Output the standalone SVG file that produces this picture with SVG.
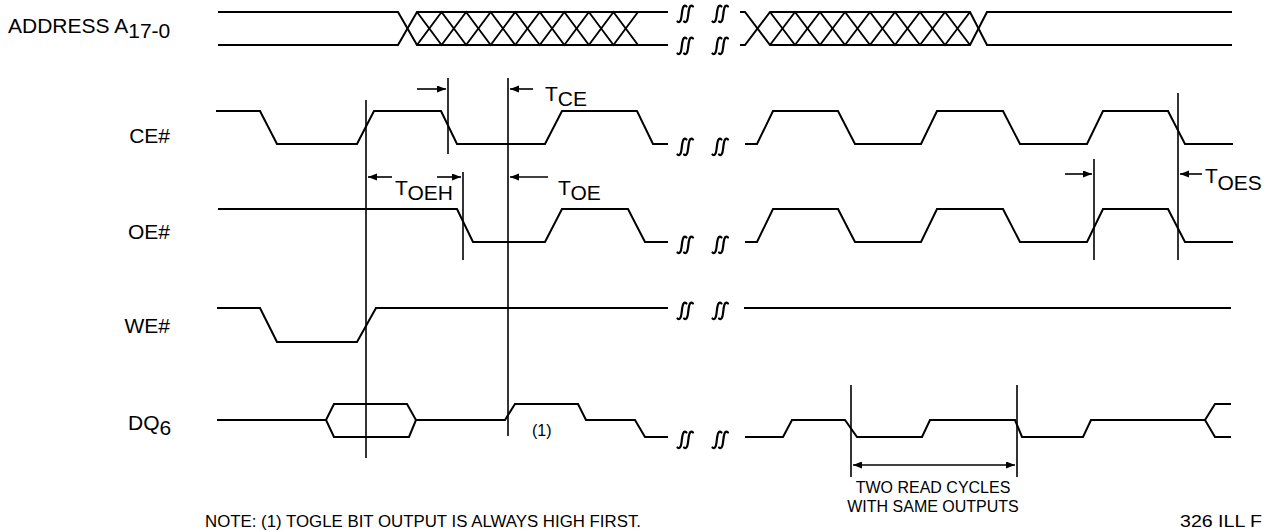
<svg xmlns="http://www.w3.org/2000/svg" width="1270" height="531" viewBox="0 0 1270 531">
<style>
.w{fill:none;stroke:#000;stroke-width:2;stroke-linejoin:miter}
.h{fill:none;stroke:#000;stroke-width:1.9}
.v{stroke:#000;stroke-width:1.6}
.a{stroke:#000;stroke-width:1.6;marker-end:url(#ah)}
.t{font-family:"Liberation Sans",Arial,sans-serif;font-size:21px;fill:#000}
.s{font-family:"Liberation Sans",Arial,sans-serif;font-size:16px;fill:#000}
.b{fill:none;stroke:#000;stroke-width:2.2;stroke-linecap:round}
</style>
<defs>
<marker id="ah" markerUnits="userSpaceOnUse" markerWidth="10" markerHeight="8" refX="9" refY="3.5" orient="auto">
<path d="M0,0 L9,3.5 L0,7 z" fill="#000"/>
</marker>
<marker id="ahs" markerUnits="userSpaceOnUse" markerWidth="10" markerHeight="8" refX="0" refY="3.5" orient="auto">
<path d="M9,0 L0,3.5 L9,7 z" fill="#000"/>
</marker>
<g id="brk">
<path d="M-7.5,7.5 C-5.5,9.5 -4,7 -3.5,2.5 L-2.8,-3 C-2.2,-8 -0.5,-9.5 1.5,-7.5"/>
<path d="M-1,7.5 C1,9.5 2.5,7 3,2.5 L3.7,-3 C4.3,-8 6,-9.5 8,-7.5"/>
</g>
</defs>

<g id="labels">
<text class="t" x="8" y="33">ADDRESS A<tspan dy="5">17-0</tspan></text>
<text class="t" x="170" y="143" text-anchor="end">CE#</text>
<text class="t" x="170" y="239" text-anchor="end">OE#</text>
<text class="t" x="170" y="333" text-anchor="end">WE#</text>
<text class="t" x="128" y="430">DQ<tspan dy="5">6</tspan></text>
</g>

<g id="address">
<path class="w" d="M218,12 H398 L417,45 H668"/>
<path class="w" d="M218,45 H398 L417,12 H668"/>
<polyline class="h" points="417,12 441.56,45 466.11,12 490.67,45 515.22,12 539.78,45 564.33,12 588.89,45 613.44,12 638,45"/>
<polyline class="h" points="417,45 441.56,12 466.11,45 490.67,12 515.22,45 539.78,12 564.33,45 588.89,12 613.44,45 638,12"/>
<path class="w" d="M740,12 H745 L770,45 H970 L987,12 H1232"/>
<path class="w" d="M740,45 H745 L770,12 H970 L987,45 H1232"/>
<polyline class="h" points="770,12 795,45 820,12 845,45 870,12 895,45 920,12 945,45 970,12"/>
<polyline class="h" points="770,45 795,12 820,45 845,12 870,45 895,12 920,45 945,12 970,45"/>
</g>

<g id="ce">
<path class="w" d="M216,111 H260 L277,144 H357 L374,111 H441 L457,144 H545 L562,111 H637 L653,144 H668"/>
<path class="w" d="M745,144 H757 L773,111 H838 L855,144 H921 L937,111 H1003 L1020,144 H1087 L1103,111 H1168 L1185,144 H1233"/>
</g>

<g id="oe">
<path class="w" d="M218,209 H457 L473,242 H545 L562,209 H628 L645,242 H668"/>
<path class="w" d="M745,242 H757 L773,209 H838 L855,242 H921 L937,209 H1003 L1020,242 H1087 L1103,209 H1168 L1185,242 H1233"/>
</g>

<g id="we">
<path class="w" d="M217,308 H260 L277,342 H357 L376,308 H668"/>
<path class="w" d="M744,308 H1231"/>
</g>

<g id="dq6">
<path class="w" d="M217,420 H326"/>
<path class="w" d="M326,420 L334,404 H407 L416,420 L409,437 H334 Z"/>
<path class="w" d="M416,420 H505 L515,404 H578 L586,420 H635 L645,437 H668"/>
<path class="w" d="M745,437 H783 L792,420 H845 L857,437 H922 L930,420 H1015 L1022,437 H1083 L1091,420 H1205 L1215,404 H1231 M1205,420 L1215,437 H1231"/>
<text class="s" x="532" y="436" font-size="14">(1)</text>
</g>

<g id="breaks" class="b">
<use href="#brk" x="685" y="14"/><use href="#brk" x="720" y="14"/>
<use href="#brk" x="685" y="46"/><use href="#brk" x="720" y="46"/>
<use href="#brk" x="685" y="147"/><use href="#brk" x="720" y="147"/>
<use href="#brk" x="685" y="245"/><use href="#brk" x="720" y="245"/>
<use href="#brk" x="685" y="311"/><use href="#brk" x="720" y="311"/>
<use href="#brk" x="685" y="440"/><use href="#brk" x="720" y="440"/>
</g>

<g id="connectors">
<line class="v" x1="366" y1="100" x2="366" y2="458"/>
<line class="v" x1="448" y1="78" x2="448" y2="154"/>
<line class="v" x1="508" y1="78" x2="508" y2="436"/>
<line class="v" x1="463" y1="172" x2="463" y2="260"/>
<line class="v" x1="1094" y1="159" x2="1094" y2="260"/>
<line class="v" x1="1178" y1="93" x2="1178" y2="260"/>
<line class="v" x1="851" y1="385" x2="851" y2="477"/>
<line class="v" x1="1017" y1="385" x2="1017" y2="477"/>
<line class="a" x1="417" y1="89" x2="446" y2="89"/>
<line class="a" x1="533" y1="89" x2="510" y2="89"/>
<line class="a" x1="392" y1="177" x2="368" y2="177"/>
<line class="a" x1="437" y1="177" x2="461" y2="177"/>
<line class="a" x1="548" y1="177" x2="510" y2="177"/>
<line class="a" x1="1065" y1="174" x2="1092" y2="174"/>
<line class="a" x1="1202" y1="174" x2="1180" y2="174"/>
<line class="a" x1="853" y1="465" x2="1015" y2="465" marker-start="url(#ahs)"/>
</g>

<g id="timing-labels">
<text class="t" x="545" y="101">T<tspan dy="5">CE</tspan></text>
<text class="t" x="395" y="195">T<tspan dy="5">OEH</tspan></text>
<text class="t" x="558" y="195">T<tspan dy="5">OE</tspan></text>
<text class="t" x="1205" y="183">T<tspan dy="7">OES</tspan></text>
</g>

<g id="notes">
<text class="s" x="933" y="493" text-anchor="middle">TWO READ CYCLES</text>
<text class="s" x="933" y="512" text-anchor="middle">WITH SAME OUTPUTS</text>
<text class="s" x="205" y="527" textLength="436" lengthAdjust="spacingAndGlyphs">NOTE: (1) TOGLE BIT OUTPUT IS ALWAYS HIGH FIRST.</text>
<text class="s" x="1180" y="527" textLength="82" lengthAdjust="spacingAndGlyphs">326 ILL F</text>
</g>
</svg>
